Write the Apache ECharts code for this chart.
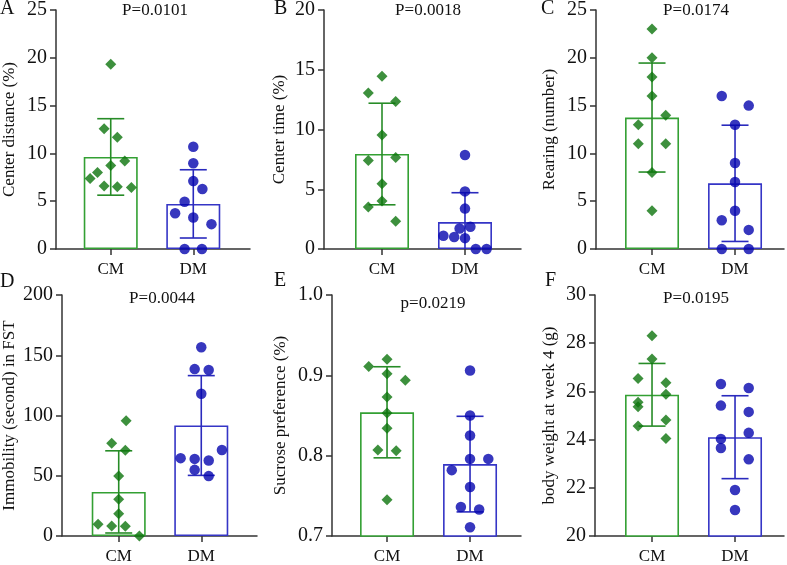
<!DOCTYPE html>
<html>
<head>
<meta charset="utf-8">
<script src="https://cdn.jsdelivr.net/npm/echarts@6/dist/echarts.min.js"></script>
<style>html,body{margin:0;padding:0;background:#fff;}#chart{width:787px;height:565px;}</style>
</head>
<body>
<div id="chart"></div>
<script>
// ---------- data ----------
const categories = ['CM', 'DM'];
const panelLetters = ['A', 'B', 'C', 'D', 'E', 'F'];
const pValues = ['P=0.0101', 'P=0.0018', 'P=0.0174', 'P=0.0044', 'p=0.0219', 'P=0.0195'];
const yNames = ['Center distance (%)', 'Center time (%)', 'Rearing (number)',
  'Immobility (second) in FST', 'Sucrose preference (%)', 'body weight at week 4 (g)'];
const yMins = [0, 0, 0, 0, 0.7, 20];
const yMaxs = [25, 20, 25, 200, 1.0, 30];
const yIntervals = [5, 5, 5, 50, 0.1, 2];

// group means and SDs [CM, DM]
const meanA = [9.63, 4.72], sdA = [4.0, 3.57];
const meanB = [7.95, 2.25], sdB = [4.25, 2.46];
const meanC = [13.75, 6.87], sdC = [5.7, 6.08];
const meanD = [36.6, 91.7], sdD = [34.1, 41.4];
const meanE = [0.854, 0.7895], sdE = [0.0567, 0.0595];
const meanF = [25.86, 24.1], sdF = [1.3, 1.72];

// individual points (values) and horizontal jitter (in category units)
const cmA = [19.32, 12.57, 11.70, 9.21, 8.73, 8.0, 7.38, 6.58, 6.51, 6.44];
const cmAj = [0, -0.08, 0.08, 0.17, 0, -0.16, -0.25, -0.08, 0.08, 0.25];
const dmA = [10.70, 8.97, 7.10, 6.27, 4.95, 3.74, 3.29, 2.60, 0, 0];
const dmAj = [0, 0, 0, 0.11, -0.105, -0.22, 0, 0.22, -0.105, 0.105];

const cmB = [14.46, 13.05, 12.35, 9.53, 7.40, 7.65, 5.46, 4.02, 3.52, 2.33];
const cmBj = [0, -0.165, 0.165, 0, -0.165, 0.165, 0, 0, -0.165, 0.165];
const dmB = [7.87, 4.82, 3.38, 1.72, 1.86, 1.11, 1.0, 0.91, 0, 0];
const dmBj = [0, 0, 0, -0.065, 0.065, -0.26, -0.13, 0, 0.13, 0.26];

const cmC = [23, 20, 18, 16, 14, 13, 11, 11, 8, 4];
const cmCj = [0, 0, 0, 0, 0.165, -0.165, -0.165, 0.165, 0, 0];
const dmC = [16, 15, 13, 9, 7, 4, 3, 2, 0, 0];
const dmCj = [-0.16, 0.165, 0, 0, 0, 0, -0.16, 0.165, -0.16, 0.165];

const cmD = [95.7, 77.0, 71.2, 49.7, 30.6, 18.5, 9.7, 8.3, 8.0, 0];
const cmDj = [0.09, -0.085, 0.08, 0, 0, 0, -0.25, -0.085, 0.08, 0.25];
const dmD = [156.7, 138.5, 137.7, 118.1, 64.6, 64.0, 62.6, 71.4, 54.9, 49.7];
const dmDj = [0, -0.08, 0.09, 0, -0.25, -0.08, 0.09, 0.25, -0.08, 0.09];

const cmE = [0.920, 0.911, 0.902, 0.894, 0.873, 0.853, 0.834, 0.807, 0.806, 0.745];
const cmEj = [0, -0.22, 0, 0.22, 0, 0, 0, -0.11, 0.11, 0];
const dmE = [0.906, 0.850, 0.825, 0.796, 0.796, 0.782, 0.761, 0.736, 0.733, 0.711];
const dmEj = [0, 0, 0, 0, 0.22, -0.22, 0, -0.11, 0.11, 0];

const cmF = [28.31, 27.34, 26.54, 26.36, 25.88, 25.55, 25.36, 24.81, 24.56, 24.05];
const cmFj = [0, 0, -0.168, 0.168, 0.168, -0.168, -0.168, 0.168, -0.168, 0.168];
const dmF = [26.31, 26.14, 25.41, 25.15, 24.28, 24.03, 23.65, 23.18, 21.91, 21.08];
const dmFj = [-0.17, 0.165, -0.17, 0.165, 0.165, -0.17, -0.17, 0.165, 0, 0];

const means = [meanA, meanB, meanC, meanD, meanE, meanF];
const sds = [sdA, sdB, sdC, sdD, sdE, sdF];
const cmVals = [cmA, cmB, cmC, cmD, cmE, cmF];
const cmJit = [cmAj, cmBj, cmCj, cmDj, cmEj, cmFj];
const dmVals = [dmA, dmB, dmC, dmD, dmE, dmF];
const dmJit = [dmAj, dmBj, dmCj, dmDj, dmEj, dmFj];

// ---------- layout / style ----------
const FONT = '"Liberation Serif", "Times New Roman", serif';
const gridBoxes = [
  {left: 55, top: 8, width: 195, height: 241},
  {left: 324, top: 8, width: 197, height: 241},
  {left: 596, top: 8, width: 188, height: 241},
  {left: 61, top: 295, width: 196, height: 242},
  {left: 332, top: 295, width: 189, height: 242},
  {left: 595, top: 295, width: 189, height: 242}
];
const xRanges = [[-0.663, 1.687], [-0.699, 1.675], [-0.675, 1.59], [-0.687, 1.675], [-0.663, 1.614], [-0.687, 1.59]];
const nameGaps = [38, 36, 38, 44, 43, 37];
const pPos = [[155, 11], [428, 11], [696, 11], [162, 299], [433, 304], [696, 299]];
const letterPos = [[0, 9], [274, 9], [541, 9], [0, 282], [274, 281], [545, 281]];

const greenBar = '#33a033', greenErr = '#278c27', greenPt = '#0d740d';
const blueBar = '#3535c6', blueErr = '#2a2abd', bluePt = '#0505ae';
const axisColor = '#333';

const grid = [], xAxis = [], yAxis = [], series = [], graphic = [];

for (let i = 0; i < 6; i++) {
  grid.push(Object.assign({containLabel: false}, gridBoxes[i]));
  xAxis.push({
    type: 'value', gridIndex: i, min: xRanges[i][0], max: xRanges[i][1],
    axisLine: {show: true, onZero: false, lineStyle: {color: axisColor, width: 1.5}},
    axisTick: {show: true, customValues: [0, 1], length: 6, lineStyle: {color: axisColor, width: 1.5}},
    axisLabel: {customValues: [0, 1], formatter: v => categories[Math.round(v)] || '',
      fontSize: 17, fontFamily: FONT, color: '#111', margin: 12},
    splitLine: {show: false}
  });
  yAxis.push({
    type: 'value', gridIndex: i, min: yMins[i], max: yMaxs[i], interval: yIntervals[i],
    name: yNames[i], nameLocation: 'middle', nameGap: nameGaps[i],
    nameTextStyle: {fontSize: 17, fontFamily: FONT, color: '#111'},
    axisLine: {show: true, onZero: false, lineStyle: {color: axisColor, width: 1.5}},
    axisTick: {show: true, length: 6, lineStyle: {color: axisColor, width: 1.5}},
    axisLabel: {fontSize: 20, fontFamily: FONT, color: '#111', margin: 9,
      formatter: i === 4 ? (v => v.toFixed(1)) : (v => String(Math.round(v)))},
    splitLine: {show: false}
  });

  const m = means[i], s = sds[i];
  series.push({
    type: 'bar', xAxisIndex: i, yAxisIndex: i, barWidth: 54, z: 1, clip: true,
    data: [
      {value: [0, m[0]], itemStyle: {color: '#fff', borderColor: greenBar, borderWidth: 1.6}},
      {value: [1, m[1]], itemStyle: {color: '#fff', borderColor: blueBar, borderWidth: 1.6}}
    ],
    silent: true
  });
  const yMin = yMins[i];
  series.push({
    type: 'custom', xAxisIndex: i, yAxisIndex: i, z: 2, clip: false,
    data: [[0, m[0], s[0]], [1, m[1], s[1]]],
    renderItem: function (params, api) {
      const x = api.value(0), mu = api.value(1), sd = api.value(2);
      const col = x < 0.5 ? greenErr : blueErr;
      const hi = mu + sd, lo = mu - sd;
      const pTop = api.coord([x, hi]);
      const pBot = api.coord([x, Math.max(lo, yMin)]);
      const half = 13.5;
      const st = {stroke: col, lineWidth: 1.6};
      const children = [
        {type: 'line', shape: {x1: pTop[0], y1: pTop[1], x2: pBot[0], y2: pBot[1]}, style: st},
        {type: 'line', shape: {x1: pTop[0] - half, y1: pTop[1], x2: pTop[0] + half, y2: pTop[1]}, style: st}
      ];
      if (lo >= yMin) {
        children.push({type: 'line', shape: {x1: pBot[0] - half, y1: pBot[1], x2: pBot[0] + half, y2: pBot[1]}, style: st});
      }
      return {type: 'group', children: children};
    },
    silent: true
  });
  series.push({
    type: 'scatter', xAxisIndex: i, yAxisIndex: i, z: 3, clip: false,
    symbol: 'diamond', symbolSize: 11,
    itemStyle: {color: greenPt},
    data: cmVals[i].map((v, k) => [cmJit[i][k], v]),
    silent: true
  });
  series.push({
    type: 'scatter', xAxisIndex: i, yAxisIndex: i, z: 3, clip: false,
    symbol: 'circle', symbolSize: 10.5,
    itemStyle: {color: bluePt},
    data: dmVals[i].map((v, k) => [1 + dmJit[i][k], v]),
    silent: true
  });

  graphic.push({
    type: 'text', x: pPos[i][0], y: pPos[i][1],
    style: {text: pValues[i], fontSize: 17, fontFamily: FONT, fill: '#111',
      textAlign: 'center', textVerticalAlign: 'middle'}
  });
  graphic.push({
    type: 'text', x: letterPos[i][0], y: letterPos[i][1],
    style: {text: panelLetters[i], fontSize: 20, fontFamily: FONT, fill: '#111',
      textAlign: 'left', textVerticalAlign: 'middle'}
  });
}

const chart = echarts.init(document.getElementById('chart'), null, {renderer: 'canvas'});
chart.setOption({
  animation: false,
  backgroundColor: '#fff',
  grid: grid, xAxis: xAxis, yAxis: yAxis, series: series, graphic: graphic
});
</script>
</body>
</html>
